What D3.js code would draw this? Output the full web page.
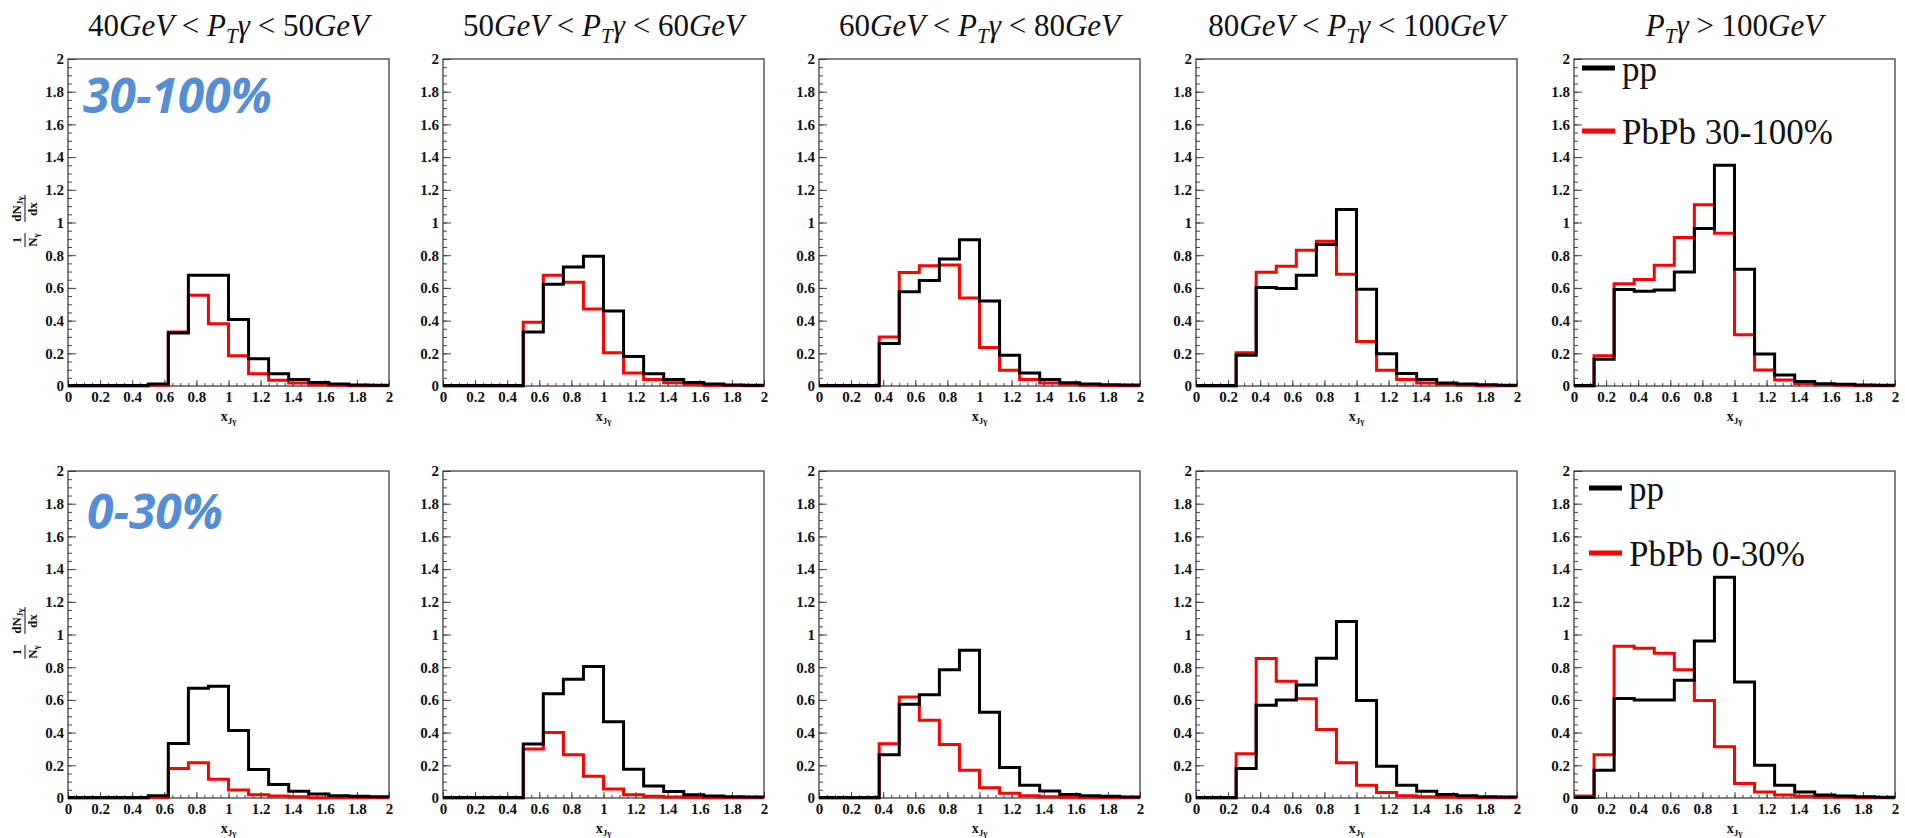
<!DOCTYPE html>
<html>
<head>
<meta charset="utf-8">
<script src="https://cdn.jsdelivr.net/npm/d3@7/dist/d3.min.js"></script>
<style>
  body { margin: 0; background: #fff; }
</style>
</head>
<body>
<svg id="chart" width="1905" height="838"></svg>
<script>
// bin edges of x_Jgamma (16 bins)
const binEdges = [0, 0.125, 0.25, 0.375, 0.5, 0.625, 0.75, 0.875, 1.0,
                  1.125, 1.25, 1.375, 1.5, 1.625, 1.75, 1.875, 2.0];

// photon pT bins (column titles)
const ptLow  = ["40", "50", "60", "80", null];
const ptHigh = ["50", "60", "80", "100", "100"];

const centralityLabels = ["30-100%", "0-30%"];
const legendPbPb = ["PbPb 30-100%", "PbPb 0-30%"];

// top row: 30-100%
const ppPeripheral = [
  [0.003,0.003,0.003,0.003,0.012,0.324,0.677,0.677,0.406,0.167,0.075,0.039,0.022,0.012,0.006,0.004],
  [0.003,0.003,0.003,0.003,0.33,0.622,0.728,0.793,0.459,0.181,0.075,0.039,0.022,0.012,0.006,0.004],
  [0.003,0.003,0.003,0.26,0.577,0.645,0.776,0.895,0.52,0.188,0.08,0.039,0.02,0.012,0.008,0.006],
  [0.003,0.003,0.188,0.603,0.597,0.678,0.866,1.08,0.592,0.198,0.076,0.039,0.018,0.012,0.008,0.004],
  [0.003,0.164,0.59,0.58,0.587,0.697,0.964,1.35,0.714,0.195,0.068,0.027,0.014,0.01,0.006,0.004]
];
const pbpbPeripheral = [
  [0,0,0,0,0.005,0.33,0.555,0.38,0.185,0.075,0.035,0.018,0.008,0.004,0.002,0.002],
  [0,0,0,0,0.39,0.677,0.634,0.471,0.204,0.08,0.039,0.02,0.01,0.005,0.003,0.002],
  [0,0,0,0.30,0.694,0.735,0.74,0.538,0.235,0.096,0.039,0.018,0.01,0.005,0.003,0.002],
  [0,0,0.204,0.695,0.733,0.831,0.885,0.684,0.272,0.096,0.039,0.018,0.01,0.006,0.002,0.002],
  [0,0.185,0.626,0.652,0.738,0.909,1.108,0.935,0.314,0.098,0.037,0.016,0.008,0.004,0.002,0.002]
];

// bottom row: 0-30%
const ppCentral = [
  [0.003,0.003,0.003,0.003,0.014,0.333,0.671,0.683,0.413,0.174,0.082,0.041,0.025,0.014,0.01,0.008],
  [0.003,0.003,0.003,0.003,0.331,0.638,0.726,0.804,0.466,0.176,0.074,0.039,0.02,0.012,0.008,0.006],
  [0.003,0.003,0.003,0.264,0.573,0.632,0.784,0.904,0.524,0.186,0.078,0.043,0.022,0.014,0.01,0.006],
  [0.003,0.003,0.18,0.568,0.599,0.691,0.855,1.08,0.597,0.194,0.078,0.041,0.022,0.014,0.008,0.006],
  [0.003,0.17,0.609,0.599,0.599,0.72,0.961,1.35,0.71,0.2,0.078,0.037,0.018,0.012,0.008,0.004]
];
const pbpbCentral = [
  [0,0,0,0,0.003,0.18,0.215,0.115,0.049,0.02,0.012,0.008,0.002,0.002,0.002,0.002],
  [0,0,0,0,0.30,0.40,0.264,0.133,0.055,0.02,0.01,0.006,0.004,0.002,0.002,0.002],
  [0,0,0,0.332,0.618,0.475,0.327,0.17,0.063,0.029,0.014,0.008,0.004,0.002,0.002,0.002],
  [0,0,0.27,0.853,0.714,0.607,0.419,0.215,0.078,0.033,0.014,0.008,0.006,0.003,0.002,0.002],
  [0.012,0.264,0.928,0.916,0.885,0.785,0.597,0.313,0.088,0.037,0.018,0.01,0.006,0.004,0.002,0.002]
];

const yMajor = [0, 0.2, 0.4, 0.6, 0.8, 1, 1.2, 1.4, 1.6, 1.8, 2];
const xMajor = [0, 0.2, 0.4, 0.6, 0.8, 1, 1.2, 1.4, 1.6, 1.8, 2];

// layout
const SERIF = "Liberation Serif";
const colLeft = [68, 443, 819, 1196, 1574];
const rowTop = [59, 471];
const pw = 321, ph = 327;
const legendPos = [{x: 8, y1: 9, y2: 72}, {x: 15, y1: 17, y2: 82}];
const bluePos = [{x: 15, y: 54}, {x: 19, y: 58}];

const svg = d3.select("#chart").attr("font-family", SERIF);

const x = d3.scaleLinear().domain([0, 2]).range([0, pw]);
const y = d3.scaleLinear().domain([0, 2]).range([ph, 0]);
const fmt = d => String(+d.toFixed(1));

const line = d3.line()
  .x(d => x(d[0]))
  .y(d => y(d[1]))
  .curve(d3.curveStepAfter);

function stepPoints(vals) {
  const pts = vals.map((v, i) => [binEdges[i], v]);
  pts.push([binEdges[binEdges.length - 1], vals[vals.length - 1]]);
  return pts;
}

// column titles
svg.selectAll(".title").data(ptHigh).enter().append("text")
  .attr("class", "title")
  .attr("x", (d, i) => colLeft[i] + pw / 2)
  .attr("y", 36)
  .attr("text-anchor", "middle")
  .attr("font-family", SERIF)
  .attr("font-size", 31)
  .attr("fill", "#111")
  .each(function(d, i) {
    const t = d3.select(this);
    if (ptLow[i] !== null) {
      t.append("tspan").text(ptLow[i]);
      t.append("tspan").attr("font-style", "italic").text("GeV");
      t.append("tspan").text(" < ");
    }
    t.append("tspan").attr("font-style", "italic").text("P");
    t.append("tspan").attr("font-style", "italic").attr("font-size", 21).attr("dy", 7).text("T");
    t.append("tspan").attr("font-style", "italic").attr("dy", -7).text("γ");
    t.append("tspan").text(ptLow[i] !== null ? " < " : " > ");
    t.append("tspan").text(ptHigh[i]);
    t.append("tspan").attr("font-style", "italic").text("GeV");
  });

function drawPanel(row, col) {
  const pp = row === 0 ? ppPeripheral[col] : ppCentral[col];
  const pbpb = row === 0 ? pbpbPeripheral[col] : pbpbCentral[col];
  const g = svg.append("g").attr("transform", `translate(${colLeft[col]},${rowTop[row]})`);

  // minor ticks
  g.append("g")
    .call(d3.axisLeft(y).tickValues(y.ticks(40)).tickSize(-4).tickFormat(""))
    .call(s => s.select(".domain").remove());
  g.append("g").attr("transform", `translate(0,${ph})`)
    .call(d3.axisBottom(x).tickValues(x.ticks(40)).tickSize(-3).tickFormat(""))
    .call(s => s.select(".domain").remove());

  // major ticks + labels
  const ya = g.append("g")
    .call(d3.axisLeft(y).tickValues(yMajor).tickSize(-8).tickPadding(4).tickFormat(fmt));
  const xa = g.append("g").attr("transform", `translate(0,${ph})`)
    .call(d3.axisBottom(x).tickValues(xMajor).tickSize(-6).tickPadding(5).tickFormat(fmt));
  [ya, xa].forEach(a => {
    a.attr("font-family", SERIF).attr("font-size", 15).attr("font-weight", "bold");
    a.select(".domain").remove();
    a.selectAll("text").attr("fill", "#111");
  });
  g.selectAll(".tick line").attr("stroke", "#444");

  // frame
  g.append("rect").attr("width", pw).attr("height", ph)
    .attr("fill", "none").attr("stroke", "#333").attr("stroke-width", 1.2);

  // histograms
  g.append("path").datum(stepPoints(pbpb)).attr("d", line)
    .attr("fill", "none").attr("stroke", "#ff0000").attr("stroke-width", 3);
  g.append("path").datum(stepPoints(pp)).attr("d", line)
    .attr("fill", "none").attr("stroke", "#000").attr("stroke-width", 3);

  // x axis title
  const xt = g.append("text")
    .attr("x", pw / 2).attr("y", ph + 35)
    .attr("text-anchor", "middle")
    .attr("font-family", SERIF).attr("font-weight", "bold").attr("font-size", 14)
    .attr("fill", "#111");
  xt.append("tspan").text("x");
  xt.append("tspan").attr("font-size", 9).attr("dy", 3).text("Jγ");

  if (col === 0) {
    // y axis title: 1/N_gamma dN_Jgamma/dx, rotated
    const yt = svg.append("g")
      .attr("transform", `translate(${25},${rowTop[row] + 163}) rotate(-90)`)
      .attr("font-family", SERIF).attr("font-weight", "bold").attr("font-size", 13)
      .attr("fill", "#111");
    yt.append("text").attr("x", -18).attr("y", -4).attr("text-anchor", "middle").text("1");
    yt.append("line").attr("x1", -25).attr("x2", -11).attr("y1", 0).attr("y2", 0)
      .attr("stroke", "#111").attr("stroke-width", 1);
    const nd = yt.append("text").attr("x", -18).attr("y", 12).attr("text-anchor", "middle");
    nd.append("tspan").text("N");
    nd.append("tspan").attr("font-size", 9).attr("dy", 2).text("γ");
    const dn = yt.append("text").attr("x", 13).attr("y", -4).attr("text-anchor", "middle");
    dn.append("tspan").text("dN");
    dn.append("tspan").attr("font-size", 9).attr("dy", 2).text("Jγ");
    yt.append("line").attr("x1", 0).attr("x2", 27).attr("y1", 0).attr("y2", 0)
      .attr("stroke", "#111").attr("stroke-width", 1);
    yt.append("text").attr("x", 13).attr("y", 12).attr("text-anchor", "middle").text("dx");

    // centrality label
    g.append("text")
      .attr("x", bluePos[row].x).attr("y", bluePos[row].y)
      .attr("font-family", "Open Sans")
      .attr("font-weight", "bold").attr("font-style", "italic")
      .attr("font-size", 48)
      .attr("fill", "#558ed5")
      .text(centralityLabels[row]);
  }

  if (col === 4) {
    const lp = legendPos[row];
    const items = [{c: "#000", t: "pp", y: lp.y1}, {c: "#ff0000", t: legendPbPb[row], y: lp.y2}];
    items.forEach(it => {
      g.append("line").attr("x1", lp.x).attr("x2", lp.x + 33)
        .attr("y1", it.y).attr("y2", it.y)
        .attr("stroke", it.c).attr("stroke-width", 5);
      g.append("text").attr("x", lp.x + 40).attr("y", it.y + 13)
        .attr("font-family", SERIF).attr("font-size", 35)
        .attr("fill", "#111").text(it.t);
    });
  }
}

for (let r = 0; r < 2; r++) {
  for (let c = 0; c < 5; c++) drawPanel(r, c);
}
</script>
</body>
</html>
